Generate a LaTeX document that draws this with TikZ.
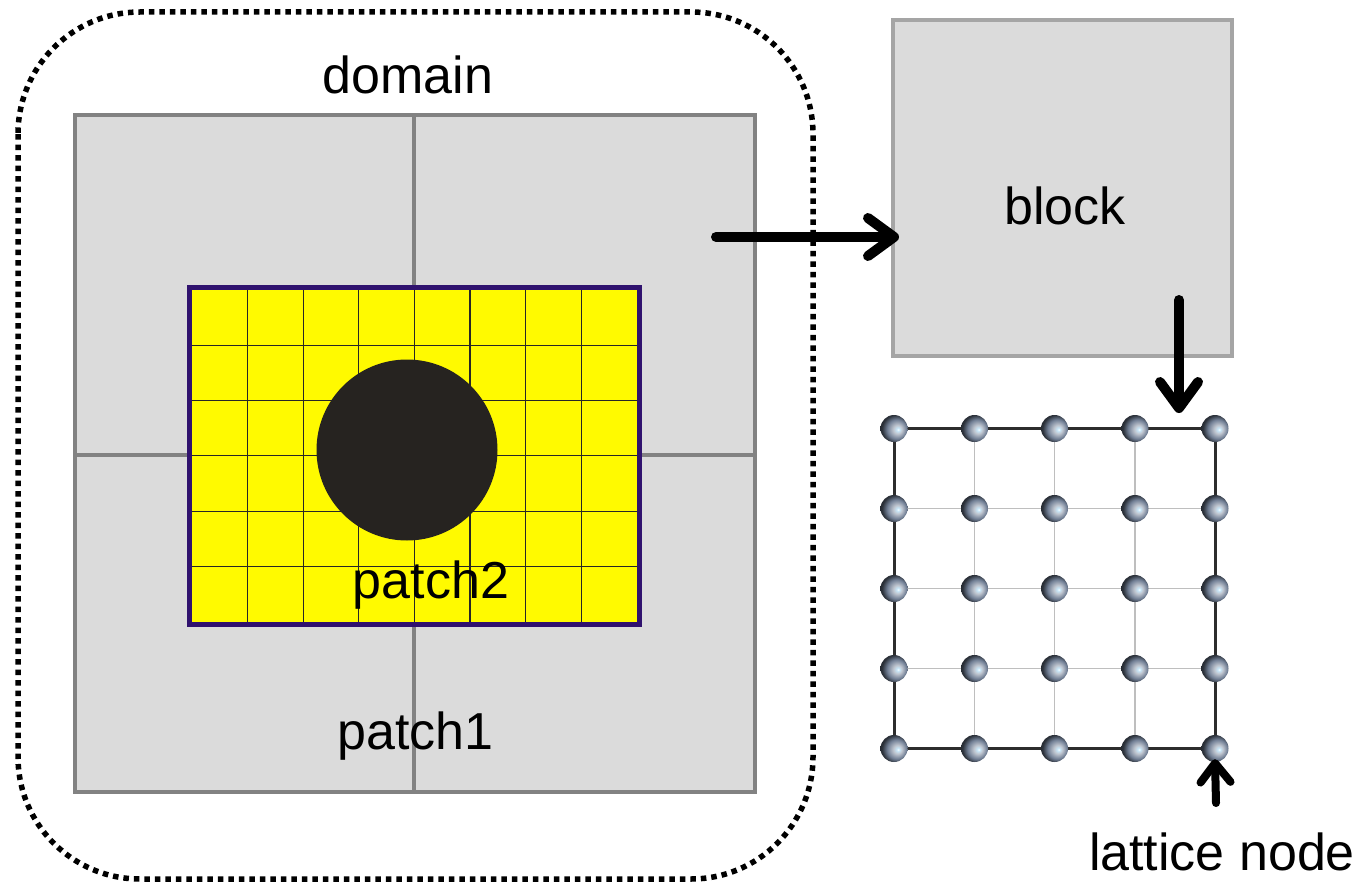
\documentclass[tikz,border=0pt]{standalone}
\usepackage{fontspec}
\setmainfont{Liberation Sans}
\usetikzlibrary{arrows.meta}

\definecolor{tilefill}{RGB}{219,219,219}
\definecolor{tileedge}{RGB}{130,130,130}
\definecolor{blockedge}{RGB}{165,165,165}
\definecolor{patchyellow}{RGB}{255,250,0}
\definecolor{patchedge}{RGB}{48,18,110}
\definecolor{holefill}{RGB}{38,35,32}
\definecolor{ballbase}{RGB}{112,126,148}
\definecolor{ballhl}{RGB}{200,232,250}
\definecolor{outerline}{RGB}{45,45,45}
\definecolor{innerline}{RGB}{190,190,190}

% shaded sphere used for the lattice nodes
\pgfdeclareradialshading{latticeball}{\pgfpoint{8bp}{-2bp}}{%
  color(0bp)=(white);
  color(2.5bp)=(ballhl);
  color(8bp)=(ballbase!45!white);
  color(18bp)=(ballbase);
  color(26bp)=(ballbase!40!black);
  color(50bp)=(black)}

\tikzset{
  label text/.style={font=\fontsize{52}{60}\selectfont, inner sep=0pt},
  tile/.style={draw=tileedge, fill=tilefill, line width=3.5pt, inner sep=0pt},
  ball/.style={circle, inner sep=0pt, minimum size=27pt, shading=latticeball},
  bigarrow/.style={line width=10pt, line cap=round,
    -{Straight Barb[length=26pt, width=38pt, line cap=round, line join=round]}},
  smallarrow/.style={line width=8pt, line cap=round,
    -{Straight Barb[length=19pt, width=30pt, line cap=round, line join=round]}},
}

\begin{document}
\begin{tikzpicture}[x=1pt, y=-1pt]
\useasboundingbox (0,0) rectangle (1366,883);

% dotted outline of the domain
\draw[line width=5.5pt, dash pattern=on 5.5pt off 5pt, rounded corners=122pt]
  (18,12) rectangle (813,879);

% four tiles of patch1
\node[tile, minimum width=339pt, minimum height=340pt] (tl) at (244.5,285) {};
\node[tile, minimum width=341pt, minimum height=340pt] (tr) at (584.5,285) {};
\node[tile, minimum width=339pt, minimum height=337pt] (bl) at (244.5,623.5) {};
\node[tile, minimum width=341pt, minimum height=337pt] (br) at (584.5,623.5) {};

% patch2: refined yellow grid
\node[draw=patchedge, fill=patchyellow, line width=5.5pt, inner sep=0pt,
      minimum width=450pt, minimum height=337pt] (p2) at (414.5,456) {};
\foreach \i in {1,...,7}
  \draw[line width=1.1pt, black!85] (192+55.6*\i,290) -- (192+55.6*\i,622);
\foreach \j in {1,...,5}
  \draw[line width=1.1pt, black!85] (192,290+55.3*\j) -- (637,290+55.3*\j);

% obstacle
\node[circle, fill=holefill, inner sep=0pt, minimum size=181pt] (hole) at (407,450) {};

% labels in the domain
\node[label text, anchor=base] (ldomain) at (408,93) {domain};
\node[label text, anchor=base] (lpatch2) at (431,598) {patch2};
\node[label text, anchor=base] (lpatch1) at (415.5,749) {patch1};

% block
\node[draw=blockedge, fill=tilefill, line width=4pt, inner sep=0pt,
      minimum width=339pt, minimum height=336pt] (block) at (1062.5,188) {};
\node[label text, anchor=base] (lblock) at (1065,224) {block};

% lattice of nodes
\foreach \c/\x in {1/894,2/974.5,3/1054.5,4/1135,5/1215}
  \foreach \r/\y in {1/428.5,2/508.5,3/588.5,4/668.5,5/748.5}
    \coordinate (n-\r-\c) at (\x,\y);
\foreach \r in {2,3,4}
  \draw[innerline, line width=1.8pt] (n-\r-1) -- (n-\r-5);
\foreach \c in {2,3,4}
  \draw[innerline, line width=1.8pt] (n-1-\c) -- (n-5-\c);
\draw[outerline, line width=3pt] (n-1-1) -- (n-1-5) -- (n-5-5) -- (n-5-1) -- cycle;
\foreach \c in {1,...,5}
  \foreach \r in {1,...,5}
    \node[ball] (b-\r-\c) at (n-\r-\c) {};

% arrows
\coordinate (a1s) at (716,237);
\coordinate (a1e) at (899,237);
\draw[bigarrow] (a1s) -- (a1e);
\coordinate (a2s) at (1179,300);
\coordinate (a2e) at (1179,413);
\draw[bigarrow] (a2s) -- (a2e);
\coordinate (a3s) at (1216,803);
\draw[smallarrow] (a3s) -- ([yshift=3pt]b-5-5.south);

\node[label text, anchor=base] (llattice) at (1222,870) {lattice node};
\end{tikzpicture}
\end{document}
